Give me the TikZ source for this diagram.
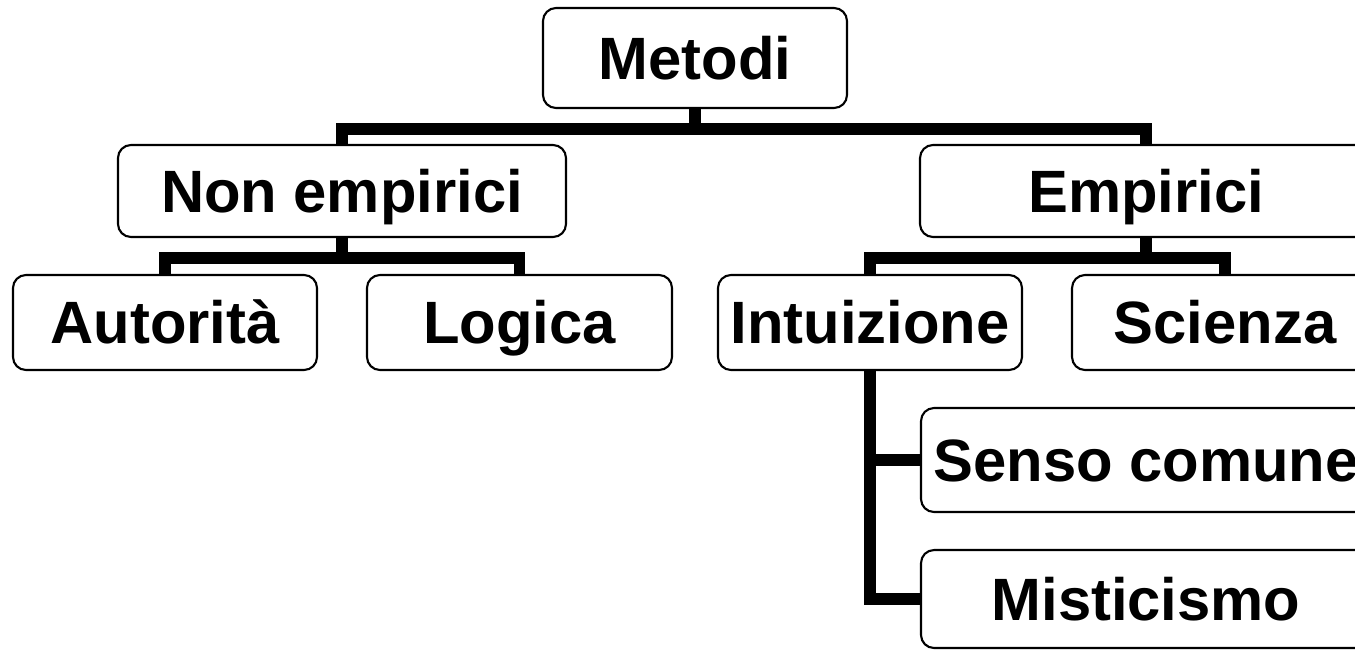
\documentclass[tikz,border=0pt]{standalone}
\usepackage{fontspec}
\setmainfont{Liberation Sans}
\usepackage{tikz}
\usetikzlibrary{arrows.meta}
\usetikzlibrary{positioning}

\tikzset{
  forkdown/.style={to path={-- ++(0,-0.2) -| (\tikztotarget)}},
  sidebranch/.style={to path={|- (\tikztotarget)}}
}

\begin{document}
\begin{tikzpicture}
      \useasboundingbox (0,0) rectangle (13.55,6.51);
      \clip (0,0) rectangle (13.55,6.51);
      \begin{scope}[every node/.style={draw=black, line width=0.6pt, rounded corners=0.13cm,
          fill=white, inner sep=0pt, minimum height=0.95cm, text height=12.2pt, text depth=0pt,
          font=\fontsize{17}{20}\selectfont\bfseries}]
        \node[minimum width=3.04cm, minimum height=1.00cm] (metodi) at (6.95 ,5.93) {Metodi};
        \node[minimum width=4.48cm, minimum height=0.92cm] (nonemp) at (3.42 ,4.60) {Non empirici};
        \node[minimum width=4.52cm, minimum height=0.92cm] (empir)  at (11.46,4.60) {Empirici};
        \node[minimum width=3.04cm] (autor)   at (1.65 ,3.285) {Autorità};
        \node[minimum width=3.05cm] (logica)  at (5.195,3.285) {Logica};
        \node[minimum width=3.04cm] (intu)    at (8.70 ,3.285) {Intuizione};
        \node[minimum width=3.06cm] (scienza) at (12.25,3.285) {Scienza};
        \node[minimum width=4.50cm, minimum height=1.04cm] (senso) at (11.46,1.91) {Senso comune};
        \node[minimum width=4.50cm, minimum height=0.98cm] (mist)  at (11.46,0.52) {Misticismo};
      \end{scope}
      \begin{scope}[every edge/.style={draw=black, line width=3.3pt}]
        \path (metodi.south) edge[forkdown] (nonemp.north);
        \path (metodi.south) edge[forkdown] (empir.north);
        \path (nonemp.south) edge[forkdown] (autor.north);
        \path (nonemp.south) edge[forkdown] (logica.north);
        \path (empir.south) edge[forkdown] (intu.north);
        \path (empir.south) edge[forkdown] (scienza.north);
        \path (intu.south) edge[sidebranch] (senso.west);
        \path (intu.south) edge[sidebranch] (mist.west);
      \end{scope}
    \end{tikzpicture}
\end{document}
